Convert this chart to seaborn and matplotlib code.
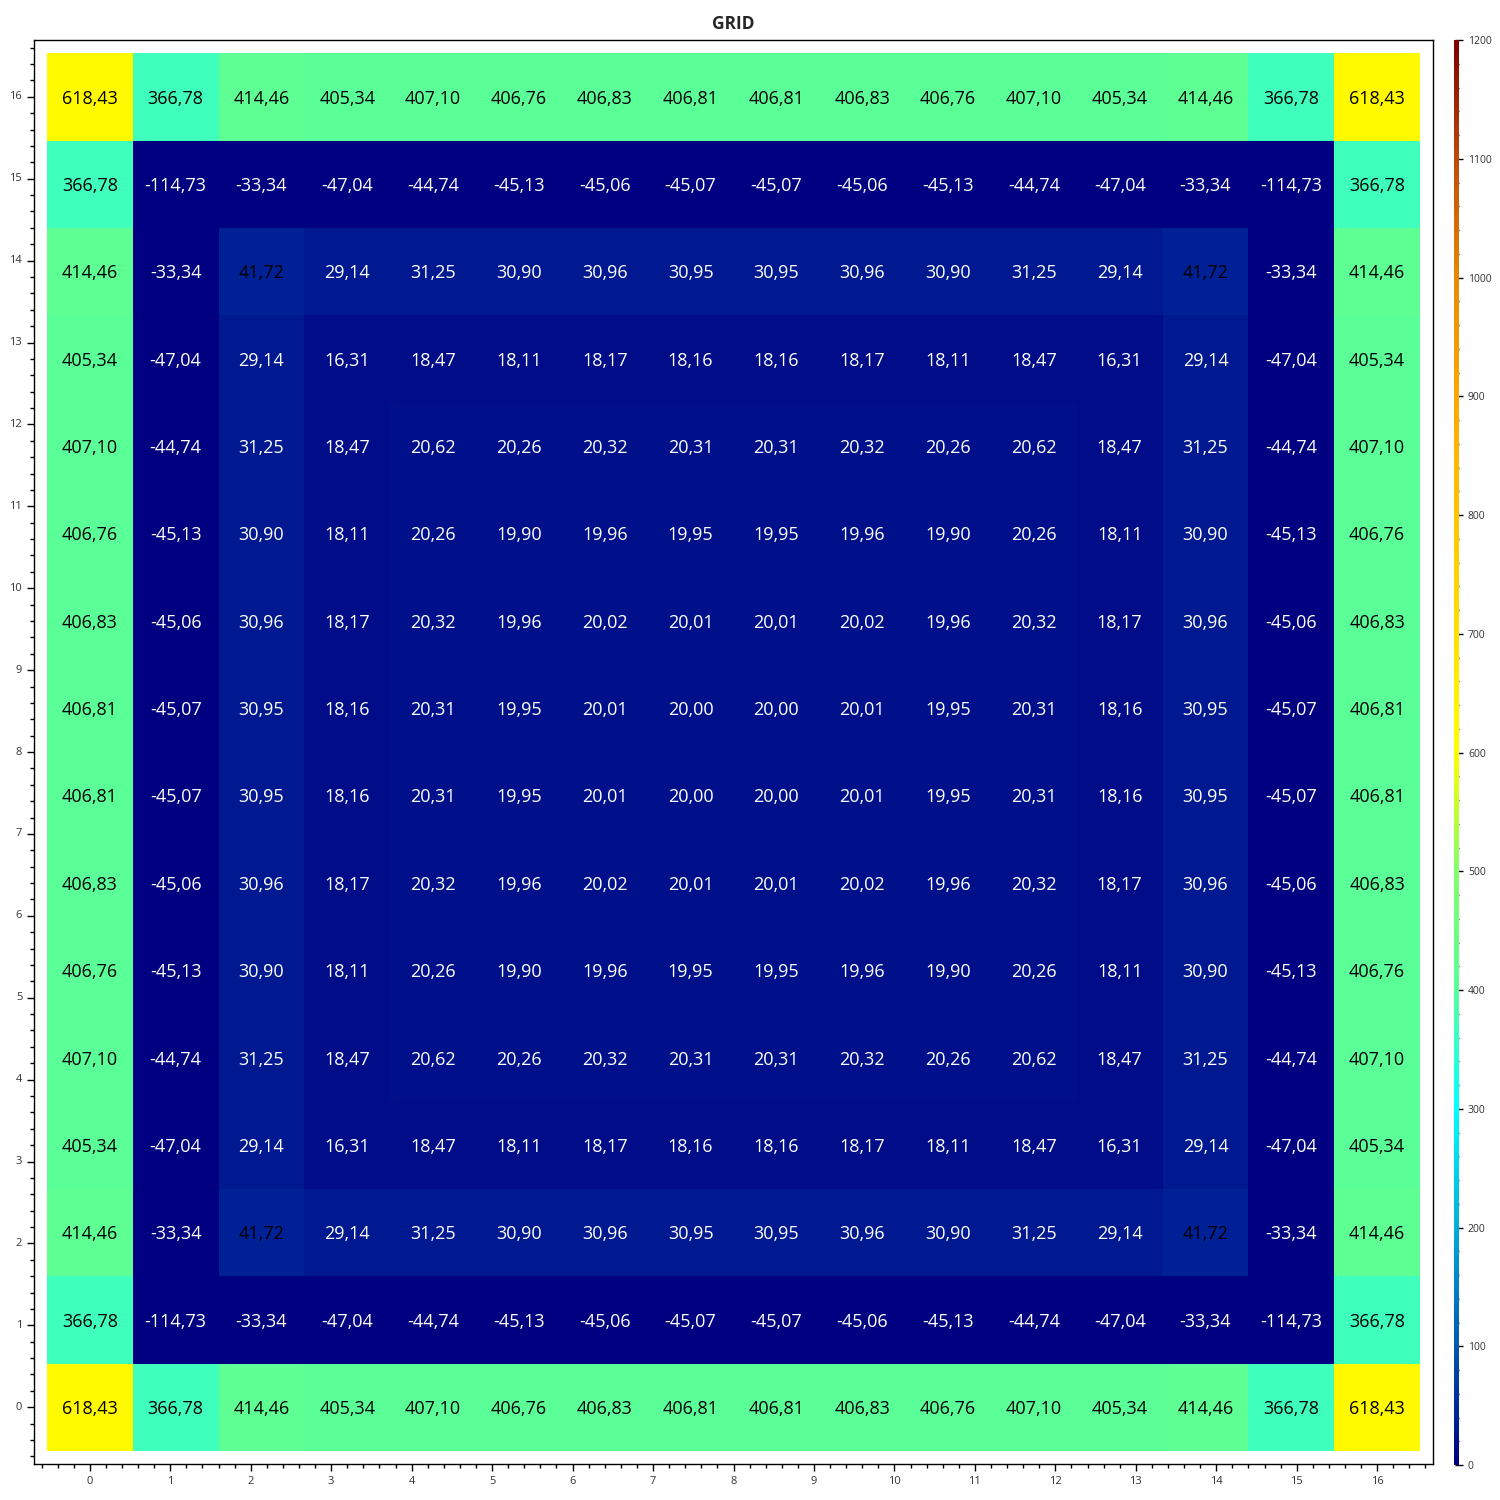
import numpy as np
import seaborn as sns
import matplotlib.pyplot as plt
from matplotlib.colors import LinearSegmentedColormap
from matplotlib.ticker import FixedLocator, MultipleLocator

# one quarter-symmetric 16x16 grid; rows/cols mirror each other
edge = [618.43, 366.78, 414.46, 405.34, 407.10, 406.76, 406.83, 406.81,
        406.81, 406.83, 406.76, 407.10, 405.34, 414.46, 366.78, 618.43]
row1 = [366.78, -114.73, -33.34, -47.04, -44.74, -45.13, -45.06, -45.07,
        -45.07, -45.06, -45.13, -44.74, -47.04, -33.34, -114.73, 366.78]
row2 = [414.46, -33.34, 41.72, 29.14, 31.25, 30.90, 30.96, 30.95,
        30.95, 30.96, 30.90, 31.25, 29.14, 41.72, -33.34, 414.46]
row3 = [405.34, -47.04, 29.14, 16.31, 18.47, 18.11, 18.17, 18.16,
        18.16, 18.17, 18.11, 18.47, 16.31, 29.14, -47.04, 405.34]
row4 = [407.10, -44.74, 31.25, 18.47, 20.62, 20.26, 20.32, 20.31,
        20.31, 20.32, 20.26, 20.62, 18.47, 31.25, -44.74, 407.10]
row5 = [406.76, -45.13, 30.90, 18.11, 20.26, 19.90, 19.96, 19.95,
        19.95, 19.96, 19.90, 20.26, 18.11, 30.90, -45.13, 406.76]
row6 = [406.83, -45.06, 30.96, 18.17, 20.32, 19.96, 20.02, 20.01,
        20.01, 20.02, 19.96, 20.32, 18.17, 30.96, -45.06, 406.83]
row7 = [406.81, -45.07, 30.95, 18.16, 20.31, 19.95, 20.01, 20.00,
        20.00, 20.01, 19.95, 20.31, 18.16, 30.95, -45.07, 406.81]

rows_bottom_up = [edge, row1, row2, row3, row4, row5, row6, row7,
                  row7, row6, row5, row4, row3, row2, row1, edge]
grid = np.array(rows_bottom_up[::-1])  # seaborn draws row 0 at the top

x_ticks = list(range(17))
y_ticks = list(range(17))

cmap = LinearSegmentedColormap.from_list("scott_jet", [
    (0 / 1200, "#000080"), (50 / 1200, "#002a9c"), (100 / 1200, "#0058b0"),
    (150 / 1200, "#0082c6"), (200 / 1200, "#00aed8"), (250 / 1200, "#00d6ec"),
    (300 / 1200, "#00ffff"), (350 / 1200, "#32ffcf"), (400 / 1200, "#58ff9a"),
    (450 / 1200, "#6cff80"), (500 / 1200, "#84ff6c"), (550 / 1200, "#c0ff30"),
    (600 / 1200, "#ffff00"), (700 / 1200, "#ffe000"), (800 / 1200, "#ffc400"),
    (900 / 1200, "#ffa800"), (1000 / 1200, "#e88a00"), (1100 / 1200, "#c04a08"),
    (1200 / 1200, "#800000")])

labels = np.array([[f"{v:.2f}".replace(".", ",") for v in r] for r in grid])

sns.set_style("white")
plt.rcParams['font.family'] = ['Open Sans', 'DejaVu Sans']

fig = plt.figure(figsize=(15, 15), dpi=100)
ax = fig.add_axes([0.0227, 0.024, 0.9326, 0.9493])
cax = fig.add_axes([0.9693, 0.0233, 0.0033, 0.95])

sns.heatmap(grid, ax=ax, cbar_ax=cax, cmap=cmap, vmin=0, vmax=1200,
            annot=labels, fmt="", annot_kws={"fontsize": 13})

for t, v in zip(ax.texts, grid.flatten()):
    t.set_color("black" if v > 35 else "white")
    t.set_y(t.get_position()[1] + 0.02)

pad = 0.15
ax.set_xlim(-pad, 16 + pad)
ax.set_ylim(16 + pad, -pad)
for s in ax.spines.values():
    s.set_visible(True)
    s.set_color("black")
    s.set_linewidth(1)

# axis units: tick 0..16 spans the first to last cell centre
scale = 15 / 16
ax.xaxis.set_major_locator(FixedLocator([0.5 + t * scale for t in x_ticks]))
ax.set_xticklabels([str(t) for t in x_ticks])
ax.xaxis.set_minor_locator(FixedLocator(
    [0.5 + m * 0.2 * scale for m in range(-3, 84) if m % 5]))
ax.yaxis.set_major_locator(FixedLocator([15.5 - t * scale for t in y_ticks]))
ax.set_yticklabels([str(t) for t in y_ticks], rotation=0)
ax.yaxis.set_minor_locator(FixedLocator(
    [15.5 - m * 0.2 * scale for m in range(-3, 84) if m % 5]))
ax.tick_params(which="major", direction="out", length=5, width=1,
               labelsize=8, labelcolor="#333333", color="black",
               bottom=True, left=True)
ax.tick_params(which="minor", direction="out", length=3, width=1,
               color="black", bottom=True, left=True)
ax.set_title("GRID", fontsize=12.5, fontweight="bold", pad=8)

cbar = ax.collections[0].colorbar
cbar.outline.set_visible(False)
cbar.set_ticks(np.arange(0, 1201, 100))
cax.yaxis.set_minor_locator(MultipleLocator(20))
cax.tick_params(which="major", direction="inout", length=6, width=1,
                labelsize=7.5, labelcolor="#333333", color="black")
cax.tick_params(which="minor", direction="in", length=3, width=1, color="black")

plt.savefig("out.png", dpi=100)
